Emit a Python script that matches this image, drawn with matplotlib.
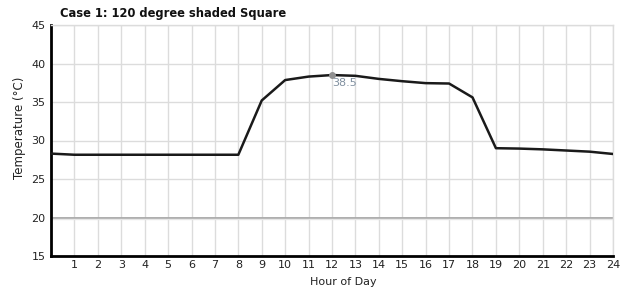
import matplotlib
matplotlib.use("Agg")
import matplotlib.pyplot as plt

hours = list(range(0, 25))
temps = [28.3, 28.15, 28.15, 28.15, 28.15, 28.15, 28.15, 28.15, 28.15,
         35.2, 37.85, 38.3, 38.5, 38.4, 38.0, 37.7, 37.45, 37.4, 35.6,
         29.0, 28.95, 28.85, 28.7, 28.55, 28.25]
x_ticks = list(range(1, 25))
y_ticks = [15, 20, 25, 30, 35, 40, 45]
title = "Case 1: 120 degree shaded Square"
peak_hour = 12
peak_value = 38.5

fig = plt.figure(figsize=(6.28, 2.93), dpi=100)
ax = fig.add_axes([51/628, 1-256/293, (613-51)/628, (256-25)/293])

ax.set_xlim(0, 24)
ax.set_ylim(15, 45)
ax.set_xticks(x_ticks)
ax.set_yticks(y_ticks)
ax.grid(True, color="#dcdcdc", linewidth=1.0)
ax.set_axisbelow(True)
ax.axhline(20, color="#a8a8a8", linewidth=1.3, zorder=1)
ax.axhline(19.75, color="#e6e6e6", linewidth=1.0, zorder=1)

ax.plot(hours, temps, color="#1a1a1a", linewidth=1.8, zorder=3)
ax.plot([peak_hour], [peak_value], 'o', color="#909090", markersize=4, zorder=4)
ax.annotate(f"{peak_value}", (peak_hour, peak_value), xytext=(0, -2),
            textcoords="offset points", ha="left", va="top",
            fontsize=8, color="#8090a0", zorder=4)

for s in ["left", "bottom"]:
    ax.spines[s].set_color("black")
    ax.spines[s].set_linewidth(2)
for s in ["top", "right"]:
    ax.spines[s].set_color("#dcdcdc")
    ax.spines[s].set_linewidth(1)

ax.tick_params(axis="both", length=0, labelsize=8, colors="#222222", pad=3)
ax.tick_params(axis="y", pad=4)
ax.set_xlabel("Hour of Day", fontsize=8, color="#222222")
ax.xaxis.set_label_coords(0.52, -0.093)
ax.set_ylabel("Temperature (°C)", fontsize=8.5, color="#222222")
ax.yaxis.set_label_coords(-0.045, 0.554)
fig.text(60/628, 1-14/293, title, fontsize=8.3, fontweight="bold",
         ha="left", va="center", color="#111111")

fig.savefig("out.png", dpi=100, facecolor="white")
